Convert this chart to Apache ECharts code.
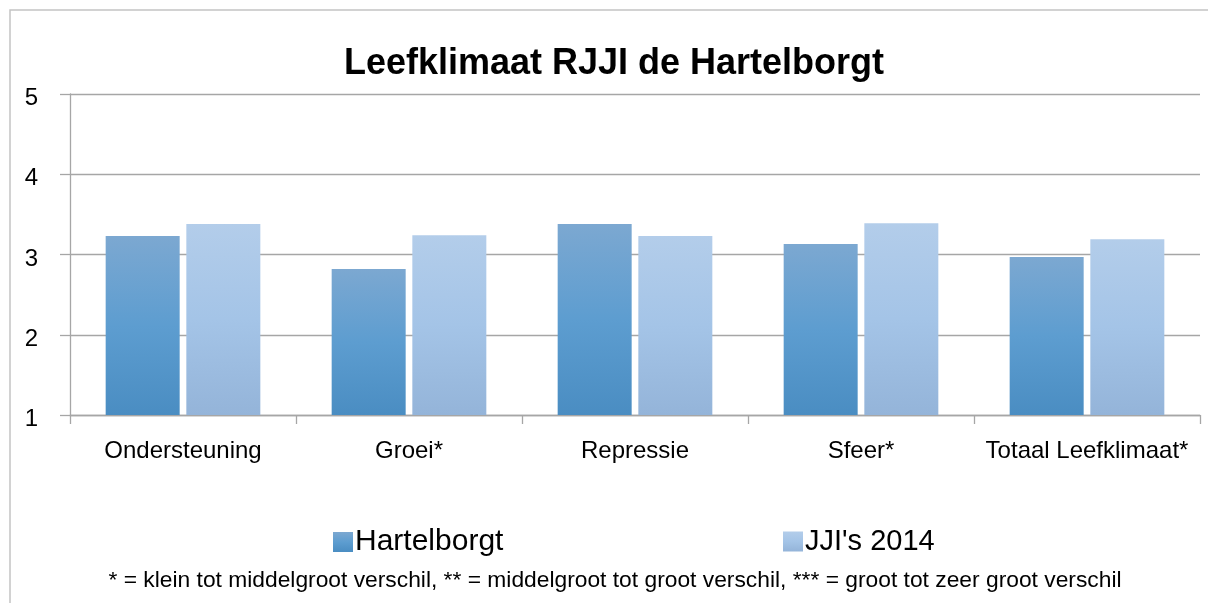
<!DOCTYPE html>
<html>
<head>
<meta charset="utf-8">
<script src="https://cdn.jsdelivr.net/npm/echarts@6/dist/echarts.min.js"></script>
<style>
html,body{margin:0;padding:0;background:#fff;}
#chart{width:1208px;height:603px;}
</style>
</head>
<body>
<div id="chart"></div>
<script>
const titleText = "Leefklimaat RJJI de Hartelborgt";
const categories = ["Ondersteuning", "Groei*", "Repressie", "Sfeer*", "Totaal Leefklimaat*"];
const seriesNames = ["Hartelborgt", "JJI's 2014"];
const hartelborgt = [3.23, 2.82, 3.38, 3.13, 2.97];
const jji2014 = [3.38, 3.24, 3.23, 3.39, 3.19];
const footnote = "* = klein tot middelgroot verschil, ** = middelgroot tot groot verschil, *** = groot tot zeer groot verschil";

const FONT = "Liberation Sans";
function grad(c0, c1, c2) {
  return new echarts.graphic.LinearGradient(0, 0, 0, 1, [
    {offset: 0, color: c0}, {offset: 0.5, color: c1}, {offset: 1, color: c2}
  ]);
}
const colH = grad('#7ca8d1', '#5d9dd0', '#4a8dc2');
const colJ = grad('#b3cdea', '#a4c4e7', '#94b4d9');

const chart = echarts.init(document.getElementById('chart'));
chart.setOption({
  animation: false,
  backgroundColor: '#fff',
  title: {
    text: titleText,
    left: 614, top: 46, padding: 0, textAlign: 'center',
    textStyle: {fontFamily: FONT, fontWeight: 'bold', fontSize: 36, color: '#000'}
  },
  legend: [
    {data: [seriesNames[0]], left: 333, top: 527, padding: 0, itemWidth: 20, itemHeight: 20, itemGap: 5,
     icon: 'rect', textStyle: {fontFamily: FONT, fontSize: 30, color: '#000', padding: [0,0,0,-3]}},
    {data: [seriesNames[1]], left: 783, top: 527, padding: 0, itemWidth: 20, itemHeight: 20, itemGap: 5,
     icon: 'rect', textStyle: {fontFamily: FONT, fontSize: 29, color: '#000', padding: [0,0,0,-3]}}
  ],
  grid: {left: 70, right: 8, top: 94, bottom: 188, containLabel: false},
  xAxis: {
    type: 'category', data: categories,
    axisLine: {lineStyle: {color: '#a6a6a6', width: 1.3}},
    axisTick: {show: true, interval: 0, length: 9, lineStyle: {color: '#a6a6a6', width: 1.3}},
    axisLabel: {interval: 0, fontFamily: FONT, fontSize: 24, color: '#000', margin: 24}
  },
  yAxis: {
    type: 'value', min: 1, max: 5, interval: 1,
    axisLine: {show: true, lineStyle: {color: '#a6a6a6', width: 1.3}},
    axisTick: {show: true, length: 10, lineStyle: {color: '#a6a6a6', width: 1.3}},
    splitLine: {lineStyle: {color: '#a6a6a6', width: 1.3}},
    axisLabel: {fontFamily: FONT, fontSize: 24, color: '#000', margin: 32,
      formatter: '{a|{value}}',
      rich: {a: {fontFamily: FONT, fontSize: 24, color: '#000', padding: [9, 0, 0, 0]}}}
  },
  series: [
    {name: seriesNames[0], type: 'bar', data: hartelborgt, barWidth: 74, barGap: '9%',
     itemStyle: {color: colH}},
    {name: seriesNames[1], type: 'bar', data: jji2014, barWidth: 74, barGap: '9%',
     itemStyle: {color: colJ}}
  ],
  graphic: [
    {type: 'rect', shape: {x: 10, y: 10, width: 1300, height: 800}, z: -1,
     style: {fill: 'none', stroke: '#c4c4c4', lineWidth: 1.5}},
    {type: 'text', x: 615, y: 581,
     style: {text: footnote, fontFamily: FONT, fontSize: 22.8, fill: '#000', align: 'center', verticalAlign: 'middle'}}
  ]
});
</script>
</body>
</html>
